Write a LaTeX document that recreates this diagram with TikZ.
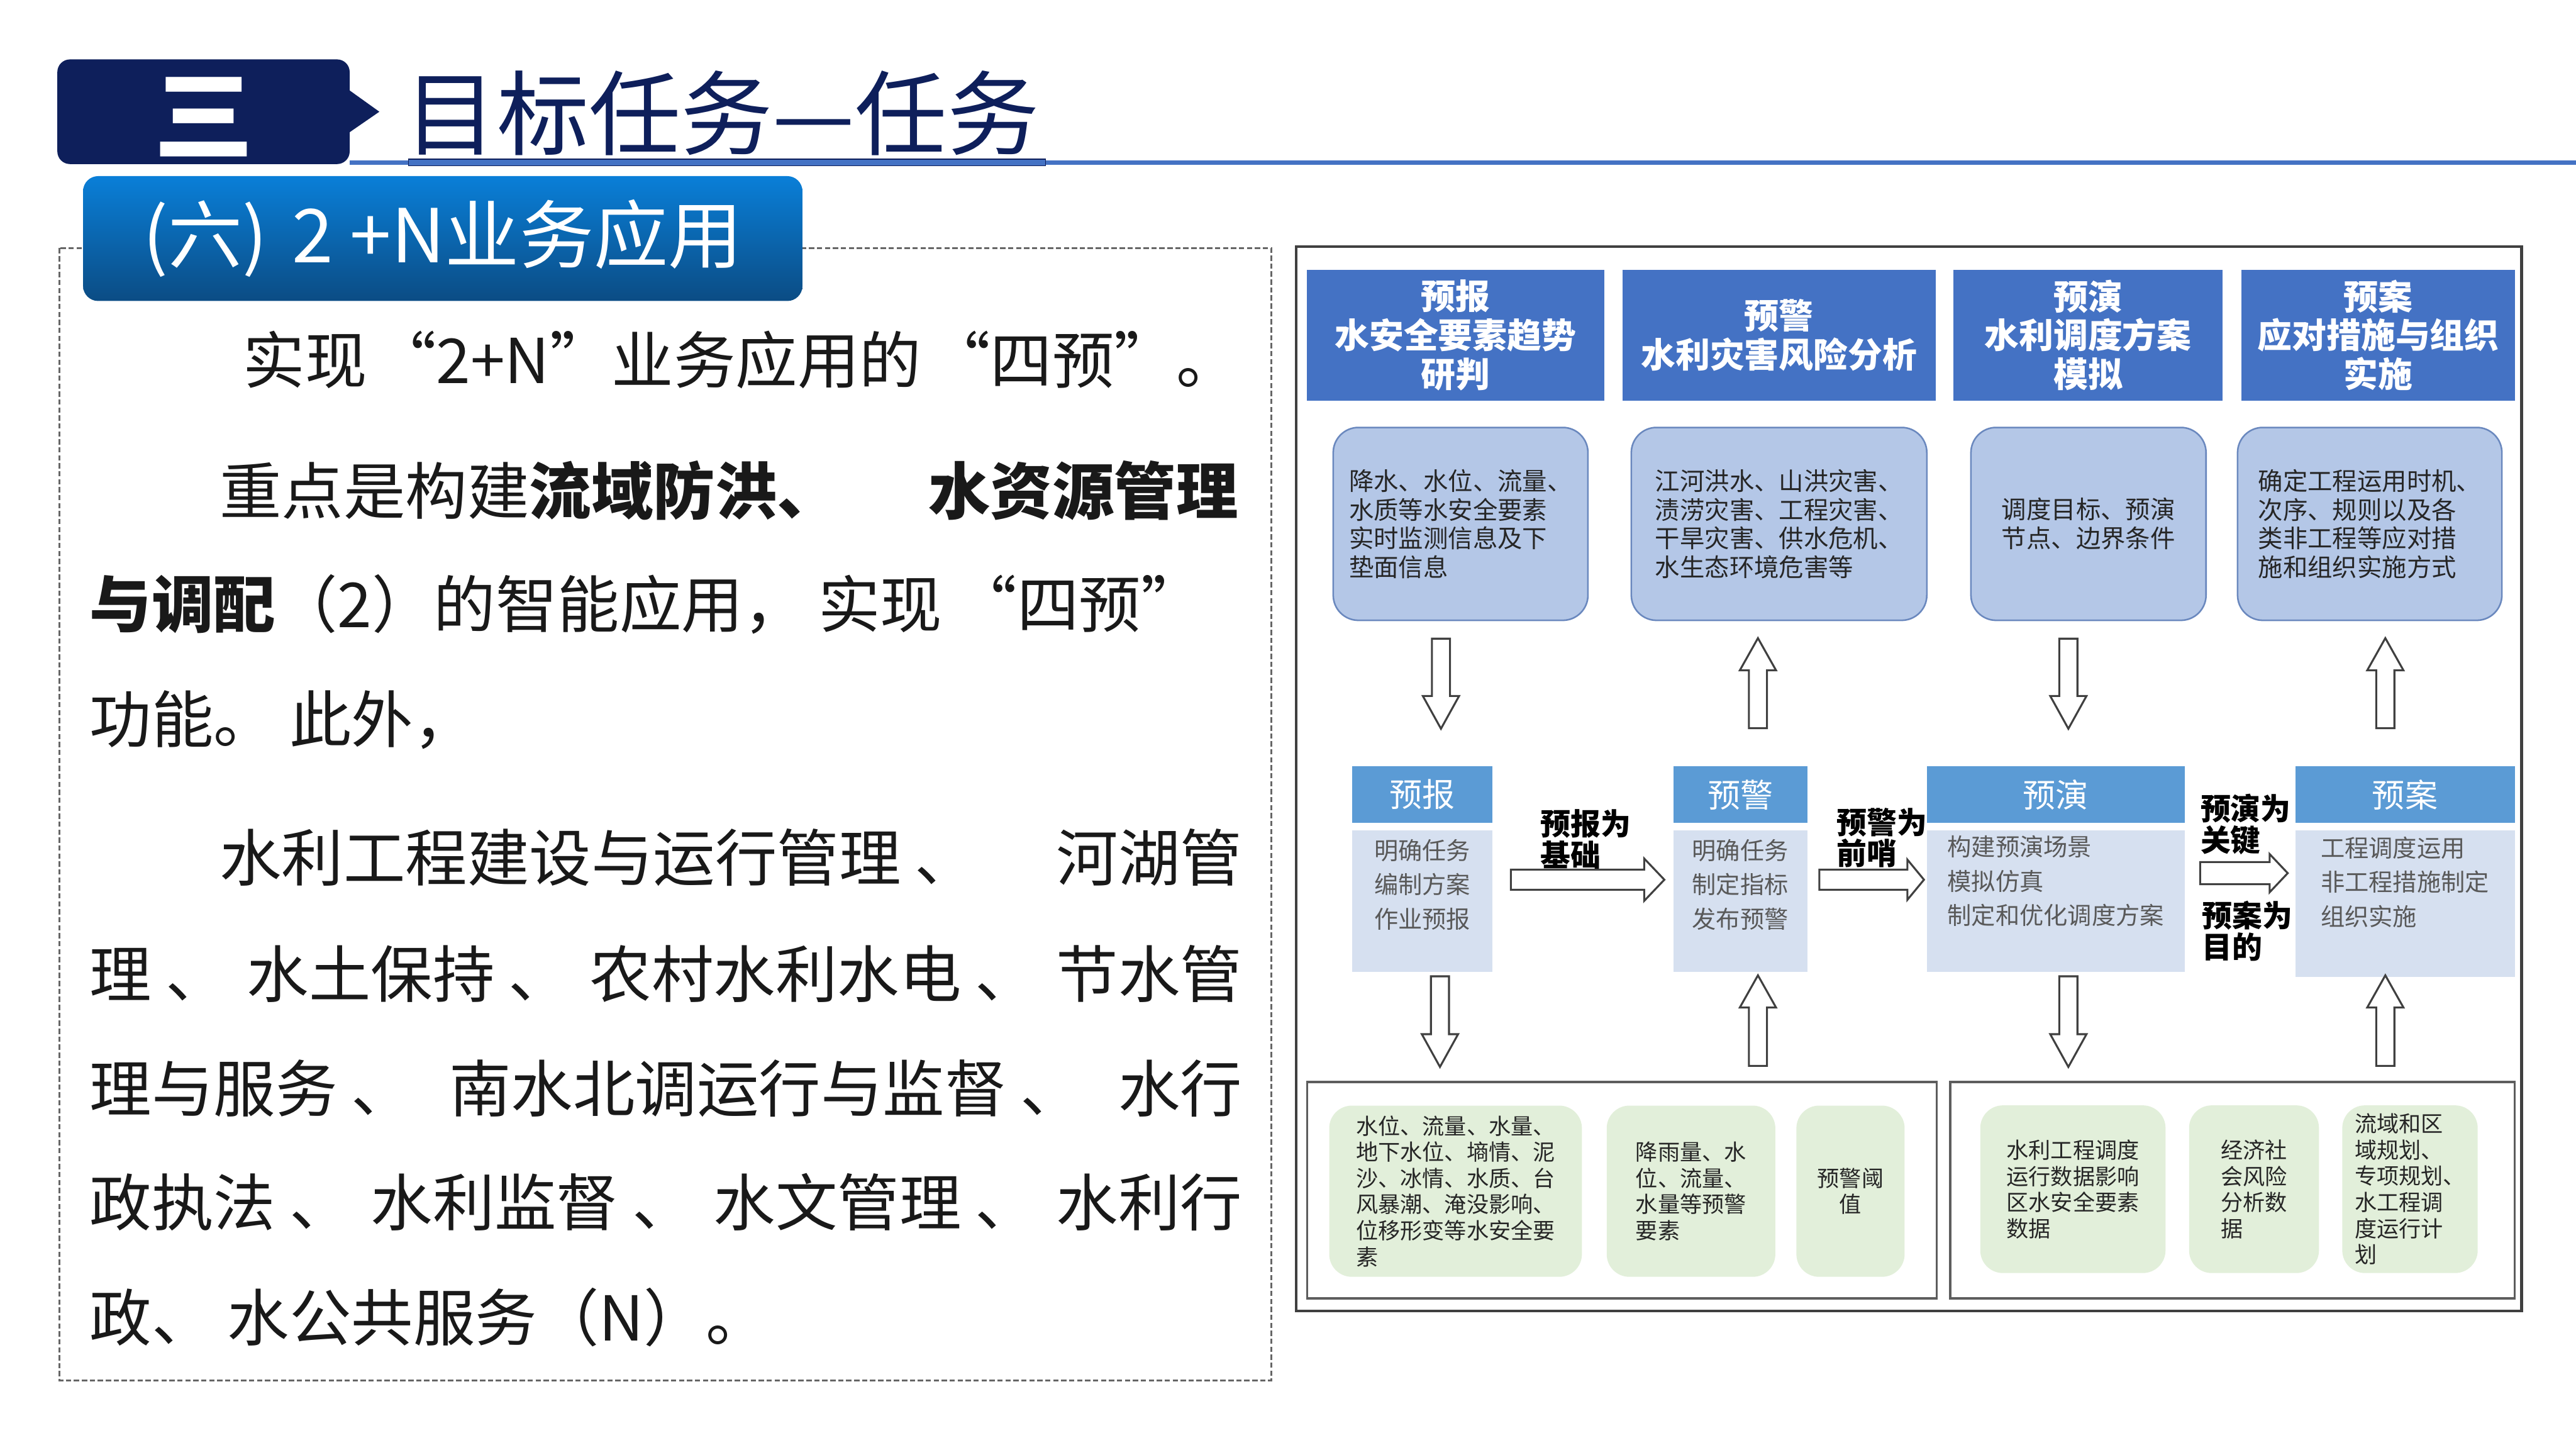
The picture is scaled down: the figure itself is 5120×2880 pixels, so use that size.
\documentclass[tikz,border=0pt]{standalone}
\usepackage{fontspec}
\setmainfont{Noto Sans CJK SC}
\usepackage{xcolor}
\usetikzlibrary{positioning}
\definecolor{navy}{HTML}{0E1F5B}
\definecolor{hblue}{HTML}{4472C4}
\definecolor{subtop}{HTML}{0A7FD8}
\definecolor{subbot}{HTML}{0B4C84}
\definecolor{rfill}{HTML}{B4C7E7}
\definecolor{rline}{HTML}{6A88BE}
\definecolor{bhead}{HTML}{5B9BD5}
\definecolor{bbody}{HTML}{D6E0F0}
\definecolor{gfill}{HTML}{E2EFDA}
\definecolor{frame}{HTML}{404040}
\tikzset{
  hdr/.style={rectangle,fill=hblue,text=white,align=center,inner sep=0pt,minimum height=2.6cm,font=\bfseries\fontsize{19.5}{22}\selectfont},
  rbox/.style={rectangle,rounded corners=0.5cm,fill=rfill,draw=rline,line width=0.9pt,align=left,inner sep=0pt,minimum height=3.83cm,text=black!85,font=\fontsize{14}{16.2}\selectfont},
  bhd/.style={rectangle,fill=bhead,text=white,inner sep=0pt,minimum height=1.12cm,font=\fontsize{18.5}{20}\selectfont},
  bbd/.style={rectangle,fill=bbody,inner sep=0pt,minimum height=2.81cm},
  btxt/.style={align=left,inner sep=0pt,text=black!65,font=\fontsize{13.6}{19.4}\selectfont},
  glab/.style={anchor=west,align=left,inner sep=0pt,font=\bfseries\fontsize{17}{17.5}\selectfont},
  gbox/.style={rectangle,rounded corners=0.45cm,fill=gfill,align=left,inner sep=0pt,minimum height=3.4cm,text=black!85,font=\fontsize{12.5}{14.8}\selectfont},
  fatarr/.style={draw=frame,fill=white,line width=1.1pt,line join=miter},
  para/.style={anchor=west,inner sep=0pt,text=black!90,font=\fontsize{35}{40}\selectfont},
}
\newcommand{\hollow}[6]{% tail, angle, length, half shaft, half head, head length
  \begin{scope}[shift={(#1)},rotate=#2]
    \draw[fatarr] (0,-#4) -- ({#3-#6},-#4) -- ({#3-#6},-#5) -- (#3,0)
      -- ({#3-#6},#5) -- ({#3-#6},#4) -- (0,#4) -- cycle;
  \end{scope}}

\begin{document}
\begin{tikzpicture}[x=0.01cm,y=0.01cm]
  \useasboundingbox (0,0) rectangle (5120,-2880);
  % title bar
  \fill[navy,rounded corners=0.25cm] (114,-118) rectangle (695,-326);
  \fill[navy] (680,-169) -- (754,-222) -- (680,-273) -- cycle;
  \fill[hblue] (695,-319) rectangle (5120,-327);
  \filldraw[fill=hblue,draw=navy,line width=0.5pt] (812,-316) rectangle (2078,-329);
  \node[text=white,font=\bfseries\fontsize{56}{56}\selectfont] (num) at (405,-232) {三};
  \node[anchor=west,text=navy,inner sep=0pt,font=\fontsize{52}{52}\selectfont] (ttl) at (804,-225) {目标任务—任务};

  % left panel
  \draw[black!60,line width=1.3pt,dash pattern=on 3pt off 1.5pt] (118,-493) rectangle (2527,-2743);
  \node[rectangle,rounded corners=0.3cm,top color=subtop,bottom color=subbot,minimum width=14.29cm,minimum height=2.48cm,text=white,font=\fontsize{42}{42}\selectfont] (sub) at (880,-474) {(六)\,\,2 +N业务应用};
  \node[para] (l1) at (483,-715) {\makebox[19.76cm][l]{实现\hfill “2+N”业务应用的\hfill “四预”。}};
  \node[para] (l2) at (436,-975) {\makebox[20.23cm][l]{重点是构建\textbf{流域防洪、}\hfill\textbf{水资源管理}}};
  \node[para] (l3) at (178,-1201) {\makebox[22.11cm][l]{\textbf{与调配}（2）的智能应用，\hfill 实现\hfill “四预”}};
  \node[para] (l4) at (178,-1430) {功能。 此外，};
  \node[para] (l5) at (436,-1704) {\makebox[20.31cm][l]{水利工程建设与运行管理 、\hfill 河湖管}};
  \node[para] (l6) at (178,-1935) {\makebox[22.89cm][l]{理 、\hfill 水土保持 、\hfill 农村水利水电 、\hfill 节水管}};
  \node[para] (l7) at (178,-2163) {\makebox[22.89cm][l]{理与服务 、\hfill 南水北调运行与监督 、\hfill 水行}};
  \node[para] (l8) at (178,-2389) {\makebox[22.89cm][l]{政执法 、\hfill 水利监督 、\hfill 水文管理 、\hfill 水利行}};
  \node[para] (l9) at (178,-2618) {政、 水公共服务（N）。};

  % right panel
  \draw[frame,line width=1.6pt] (2576,-490) rectangle (5012,-2605);
  \draw[frame!85,line width=1.2pt] (2598,-2150) rectangle (3849,-2580);
  \draw[frame!85,line width=1.2pt] (3876,-2150) rectangle (4998,-2580);

  \node[hdr,minimum width=5.9cm] (h1) at (2893,-666) {预报\\水安全要素趋势\\研判};
  \node[hdr,minimum width=6.22cm] (h2) at (3536,-666) {预警\\水利灾害风险分析};
  \node[hdr,minimum width=5.35cm] (h3) at (4150,-666) {预演\\水利调度方案\\模拟};
  \node[hdr,minimum width=5.44cm] (h4) at (4727,-666) {预案\\应对措施与组织\\实施};

  \node[rbox,minimum width=5.06cm] (r1) at (2903,-1041) {降水、水位、流量、\\水质等水安全要素\\实时监测信息及下\\垫面信息};
  \node[rbox,minimum width=5.87cm] (r2) at (3536,-1041) {江河洪水、山洪灾害、\\渍涝灾害、工程灾害、\\干旱灾害、供水危机、\\水生态环境危害等};
  \node[rbox,minimum width=4.67cm] (r3) at (4151,-1041) {调度目标、预演\\节点、边界条件};
  \node[rbox,minimum width=5.25cm] (r4) at (4710,-1041) {确定工程运用时机、\\次序、规则以及各\\类非工程等应对措\\施和组织实施方式};

  \node[bhd,minimum width=2.78cm] (bh1) at (2827,-1579) {预报};
  \node[bhd,minimum width=2.66cm] (bh2) at (3459,-1579) {预警};
  \node[bhd,minimum width=5.13cm] (bh3) at (4086,-1579) {预演};
  \node[bhd,minimum width=4.36cm] (bh4) at (4780,-1579) {预案};
  \node[bbd,minimum width=2.78cm,below=0.14cm of bh1] (bb1) {};
  \node[bbd,minimum width=2.66cm,below=0.14cm of bh2] (bb2) {};
  \node[bbd,minimum width=5.13cm,below=0.14cm of bh3] (bb3) {};
  \node[bbd,minimum width=4.36cm,minimum height=2.91cm,below=0.14cm of bh4] (bb4) {};
  \node[btxt,below=0.17cm of bb1.north] (bt1) {明确任务\\编制方案\\作业预报};
  \node[btxt,below=0.17cm of bb2.north] (bt2) {明确任务\\制定指标\\发布预警};
  \node[btxt,below=0.1cm of bb3.north] (bt3) {构建预演场景\\模拟仿真\\制定和优化调度方案};
  \node[btxt,below=0.12cm of bb4.north] (bt4) {工程调度运用\\非工程措施制定\\组织实施};

  \node[glab] (lab1) at (3061,-1668) {预报为\\基础};
  \node[glab] (lab2) at (3650,-1665) {预警为\\前哨};
  \node[glab] (lab3) at (4373,-1638) {预演为\\关键};
  \node[glab] (lab4) at (4376,-1850) {预案为\\目的};

  \node[gbox,minimum width=5.02cm] (g1) at (2893,-2367) {水位、流量、水量、\\地下水位、墒情、泥\\沙、冰情、水质、台\\风暴潮、淹没影响、\\位移形变等水安全要\\素};
  \node[gbox,minimum width=3.35cm] (g2) at (3361,-2367) {降雨量、水\\位、流量、\\水量等预警\\要素};
  \node[gbox,minimum width=2.15cm,align=center] (g3) at (3678,-2367) {预警阈\\值};
  \node[gbox,minimum width=3.68cm,minimum height=3.33cm] (g4) at (4120,-2363) {水利工程调度\\运行数据影响\\区水安全要素\\数据};
  \node[gbox,minimum width=2.58cm,minimum height=3.33cm] (g5) at (4480,-2363) {经济社\\会风险\\分析数\\据};
  \node[gbox,minimum width=2.69cm,minimum height=3.33cm] (g6) at (4790,-2363) {流域和区\\域规划、\\专项规划、\\水工程调\\度运行计\\划};

  % hollow arrows
  \coordinate (t12) at (3003,-1748);
  \coordinate (t23) at (3616,-1748);
  \coordinate (t34) at (4373,-1735);
  \hollow{t12}{0}{305}{20}{42}{40}
  \hollow{t23}{0}{208}{20}{40}{33}
  \hollow{t34}{0}{174}{22}{38}{36}
  \coordinate (d1) at (2864,-1269);
  \coordinate (u1) at (3494,-1447);
  \coordinate (d2) at (4111,-1269);
  \coordinate (u2) at (4741,-1447);
  \coordinate (d3) at (2862,-1940);
  \coordinate (u3) at (3494,-2118);
  \coordinate (d4) at (4111,-1940);
  \coordinate (u4) at (4741,-2118);
  \hollow{d1}{-90}{179}{18}{36}{65}
  \hollow{u1}{90}{179}{18}{36}{64}
  \hollow{d2}{-90}{179}{18}{36}{65}
  \hollow{u2}{90}{179}{18}{36}{64}
  \hollow{d3}{-90}{180}{18}{36}{65}
  \hollow{u3}{90}{180}{18}{36}{64}
  \hollow{d4}{-90}{180}{18}{36}{65}
  \hollow{u4}{90}{180}{18}{36}{64}
\end{tikzpicture}
\end{document}
